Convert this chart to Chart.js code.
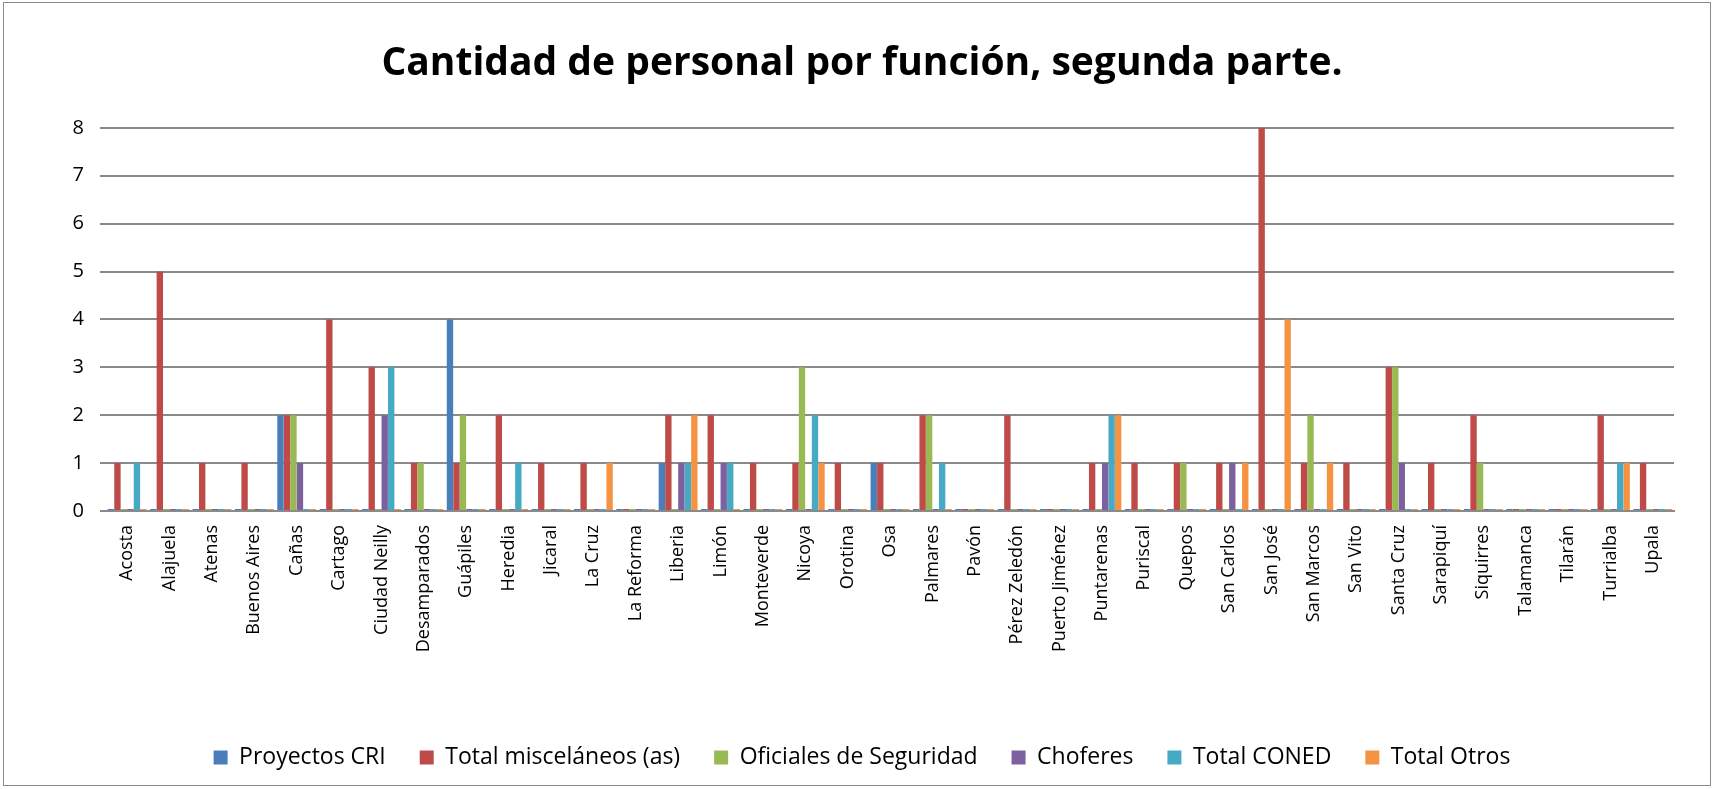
<!DOCTYPE html>
<html>
<head>
<meta charset="utf-8">
<script src="https://cdn.jsdelivr.net/npm/chart.js@4.4.1/dist/chart.umd.min.js"></script>
<style>
    html, body { margin: 0; padding: 0; background: #fff; }
    #wrap { position: relative; width: 1716px; height: 789px; }
    #frame { position: absolute; left: 3px; top: 2px; width: 1706px; height: 782px; border: 1.5px solid #8a8a8a; pointer-events: none; }
</style>
</head>
<body>
<div id="wrap">
    <canvas id="chart" width="1716" height="789"></canvas>
    <div id="frame"></div>
</div>
<script>
const sedes = ['Acosta', 'Alajuela', 'Atenas', 'Buenos Aires', 'Cañas', 'Cartago', 'Ciudad Neilly',
    'Desamparados', 'Guápiles', 'Heredia', 'Jicaral', 'La Cruz', 'La Reforma', 'Liberia', 'Limón',
    'Monteverde', 'Nicoya', 'Orotina', 'Osa', 'Palmares', 'Pavón', 'Pérez Zeledón', 'Puerto Jiménez',
    'Puntarenas', 'Puriscal', 'Quepos', 'San Carlos', 'San José', 'San Marcos', 'San Vito',
    'Santa Cruz', 'Sarapiquí', 'Siquirres', 'Talamanca', 'Tilarán', 'Turrialba', 'Upala'];

const proyectosCRI  = [0,0,0,0,2,0,0,0,4,0,0,0,0,1,0,0,0,0,1,0,0,0,0,0,0,0,0,0,0,0,0,0,0,0,0,0,0];
const miscelaneos   = [1,5,1,1,2,4,3,1,1,2,1,1,0,2,2,1,1,1,1,2,0,2,0,1,1,1,1,8,1,1,3,1,2,0,0,2,1];
const oficialesSeg  = [0,0,0,0,2,0,0,1,2,0,0,0,0,0,0,0,3,0,0,2,0,0,0,0,0,1,0,0,2,0,3,0,1,0,0,0,0];
const choferes      = [0,0,0,0,1,0,2,0,0,0,0,0,0,1,1,0,0,0,0,0,0,0,0,1,0,0,1,0,0,0,1,0,0,0,0,0,0];
const totalCONED    = [1,0,0,0,0,0,3,0,0,1,0,0,0,1,1,0,2,0,0,1,0,0,0,2,0,0,0,0,0,0,0,0,0,0,0,1,0];
const totalOtros    = [0,0,0,0,0,0,0,0,0,0,0,1,0,2,0,0,1,0,0,0,0,0,0,2,0,0,1,4,1,0,0,0,0,0,0,1,0];

const yTicks = [0, 1, 2, 3, 4, 5, 6, 7, 8];

function serie(label, data, color) {
    return {
        label: label,
        data: data,
        backgroundColor: color,
        borderColor: color,
        borderWidth: 0,
        minBarLength: 2,
        categoryPercentage: 0.92,
        barPercentage: 0.98
    };
}

const ctx = document.getElementById('chart').getContext('2d');
new Chart(ctx, {
    type: 'bar',
    data: {
        labels: sedes,
        datasets: [
            serie('Proyectos CRI', proyectosCRI, '#4a7ebb'),
            serie('Total misceláneos (as)', miscelaneos, '#be4b48'),
            serie('Oficiales de Seguridad', oficialesSeg, '#98b954'),
            serie('Choferes', choferes, '#7d60a0'),
            serie('Total CONED', totalCONED, '#46aac5'),
            serie('Total Otros', totalOtros, '#f59342')
        ]
    },
    options: {
        responsive: false,
        animation: false,
        layout: { padding: { left: 50, right: 42, top: 0, bottom: 10 } },
        plugins: {
            title: {
                display: true,
                text: 'Cantidad de personal por función, segunda parte.',
                color: '#000',
                font: { family: 'Open Sans', size: 39, weight: 'bold' },
                padding: { top: 40, bottom: 41 }
            },
            legend: {
                position: 'bottom',
                labels: {
                    color: '#000',
                    font: { family: 'Open Sans', size: 23 },
                    boxWidth: 14,
                    boxHeight: 14,
                    padding: 34
                }
            },
            tooltip: { enabled: false }
        },
        scales: {
            x: {
                grid: { display: false },
                border: { display: true, color: '#8a8a8a', width: 2 },
                ticks: {
                    color: '#000',
                    font: { family: 'Open Sans', size: 18 },
                    minRotation: 90,
                    maxRotation: 90,
                    autoSkip: false,
                    padding: 6
                },
                afterFit: scale => { scale.height = 201; }
            },
            y: {
                min: 0,
                max: 8,
                afterBuildTicks: scale => { scale.ticks = yTicks.map(v => ({ value: v })); },
                grid: { color: '#8a8a8a', lineWidth: 2, tickLength: 6 },
                border: { display: false },
                ticks: {
                    color: '#000',
                    font: { family: 'Open Sans', size: 20 },
                    padding: 16
                },
                afterFit: scale => { scale.width = 56; }
            }
        }
    }
});
</script>
</body>
</html>
